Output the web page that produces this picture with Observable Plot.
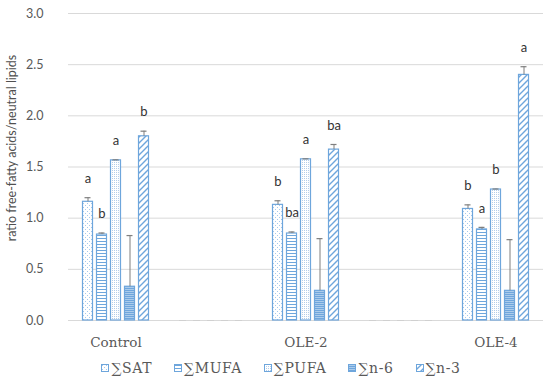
<!DOCTYPE html>
<html><head><meta charset="utf-8">
<script src="https://cdn.jsdelivr.net/npm/d3@7"></script>
<script src="https://cdn.jsdelivr.net/npm/@observablehq/plot@0.6"></script>
<style>
body{margin:0;background:#fff;}
#wrap{position:relative;width:550px;height:381px;background:#fff;}
#ylabel{position:absolute;left:11px;top:148px;transform:translate(-50%,-50%) rotate(-90deg);white-space:nowrap;font:12.5px Lato, sans-serif;color:#505050;}
#legend{position:absolute;left:0;top:358px;width:550px;height:20px;display:flex;justify-content:center;align-items:center;gap:22px;font:14px "DejaVu Serif", serif;letter-spacing:0.6px;color:#595959;padding-left:12px;box-sizing:border-box;}
#legend .item{display:flex;align-items:center;}
#legend svg{margin-right:2px;}
</style></head><body>
<svg width="0" height="0" style="position:absolute"><defs>
<pattern id="pSAT" width="4" height="4" patternUnits="userSpaceOnUse"><rect width="4" height="4" fill="#fff"/><rect x="1" y="1" width="1" height="1" fill="#a6c8ec"/><rect x="3" y="3" width="1" height="1" fill="#a6c8ec"/></pattern>
<pattern id="pMUFA" width="4" height="3" patternUnits="userSpaceOnUse"><rect width="4" height="3" fill="#fff"/><rect x="0" y="1" width="4" height="1" fill="#6ea6dc"/></pattern>
<pattern id="pPUFA" width="2" height="2" patternUnits="userSpaceOnUse"><rect width="2" height="2" fill="#fff"/><rect x="0" y="0" width="1" height="1" fill="#b3cde9"/></pattern>
<pattern id="pN6" width="2" height="2" patternUnits="userSpaceOnUse"><rect width="2" height="2" fill="#abcbeb"/><rect x="0" y="0" width="2" height="1" fill="#6fa6dc"/></pattern>
<pattern id="pN3" width="6" height="6" patternUnits="userSpaceOnUse"><rect width="6" height="6" fill="#fff"/><path d="M0,6 L6,0 M-3,3 L3,-3 M3,9 L9,3" stroke="#6ea6dc" stroke-width="1.4"/></pattern>
</defs></svg>
<div id="wrap"><div id="chart"></div><div id="ylabel">ratio free-fatty acids/neutral lipids</div><div id="legend"></div></div>
<script>
const categories = ["Control", "OLE-2", "OLE-4"];
const groupSlots = ["Control", "gap1", "OLE-2", "gap2", "OLE-4"];
const series = ["∑SAT", "∑MUFA", "∑PUFA", "∑n-6", "∑n-3"];
const patterns = ["url(#pSAT)", "url(#pMUFA)", "url(#pPUFA)", "url(#pN6)", "url(#pN3)"];
const yTicks = [0, 0.5, 1.0, 1.5, 2.0, 2.5, 3.0];

const SAT = [1.16, 1.13, 1.09];
const MUFA = [0.84, 0.85, 0.89];
const PUFA = [1.565, 1.575, 1.28];
const N6 = [0.33, 0.29, 0.29];
const N3 = [1.80, 1.67, 2.40];

const SAT_err = [0.04, 0.04, 0.04];
const MUFA_err = [0.015, 0.015, 0.02];
const PUFA_err = [0.005, 0.005, 0.005];
const N6_err = [0.50, 0.51, 0.50];
const N3_err = [0.05, 0.05, 0.08];

const SAT_sig = ["a", "b", "b"];
const MUFA_sig = ["b", "ba", "a"];
const PUFA_sig = ["a", "a", "b"];
const N6_sig = ["", "", ""];
const N3_sig = ["b", "ba", "a"];

const vals = [SAT, MUFA, PUFA, N6, N3];
const errs = [SAT_err, MUFA_err, PUFA_err, N6_err, N3_err];
const sigs = [SAT_sig, MUFA_sig, PUFA_sig, N6_sig, N3_sig];

const rows = [];
categories.forEach((c, i) => series.forEach((s, j) => rows.push({cat: c, series: s, value: vals[j][i], err: errs[j][i], sig: sigs[j][i]})));
const gaps = [];
["gap1", "gap2"].forEach(c => series.forEach(s => gaps.push({cat: c, series: s, value: 0})));

const chart = Plot.plot({
  width: 550, height: 355,
  marginLeft: 68, marginRight: 7, marginTop: 13, marginBottom: 35,
  style: {background: "white", color: "#595959"},
  fx: {domain: groupSlots, padding: 0, label: null},
  x: {domain: series, paddingInner: 0.2, paddingOuter: 0.875, axis: null},
  y: {domain: [0, 3], label: null},
  color: {type: "ordinal", domain: series, range: patterns},
  marks: [
    Plot.gridY({ticks: yTicks, stroke: "#d9d9d9", strokeOpacity: 1}),
    Plot.axisY({ticks: yTicks, tickFormat: d3.format(".1f"), tickSize: 0, tickPadding: 25, label: null, fontFamily: "Lato", fontSize: 12.5, fill: "#595959"}),
    Plot.axisFx({anchor: "bottom", tickSize: 0, tickPadding: 17, label: null, tickFormat: d => d.startsWith("gap") ? "" : d, fontFamily: "DejaVu Serif", fontSize: 13.5, fill: "#595959"}),
    Plot.tickY(gaps, {fx: "cat", x: "series", y: "value", stroke: "#d0d0d0", insetLeft: 2, insetRight: 2}),
    Plot.barY(rows, {fx: "cat", x: "series", y: "value", fill: "series", stroke: "#6ea6dc", strokeWidth: 1.2, insetLeft: 0.5, insetRight: 0.5}),
    Plot.ruleX(rows, {fx: "cat", x: "series", y1: "value", y2: d => d.value + d.err, stroke: "#7f7f7f", strokeWidth: 1}),
    Plot.tickY(rows, {fx: "cat", x: "series", y: d => d.value + d.err, stroke: "#7f7f7f", strokeWidth: 1.2, insetLeft: 2.5, insetRight: 2.5}),
    Plot.text(rows.filter(d => d.sig), {fx: "cat", x: "series", y: d => d.value + d.err, text: "sig", dy: -19, fontFamily: "Lato", fontSize: 13, fill: "#333333"})
  ]
});
document.getElementById("chart").appendChild(chart);

const legend = document.getElementById("legend");
series.forEach((s, j) => {
  const item = document.createElement("div");
  item.className = "item";
  item.innerHTML = `<svg width="8" height="8"><rect x="0.5" y="0.5" width="7" height="7" fill="${patterns[j]}" stroke="#6ea6dc" stroke-width="1"/></svg><span>${s}</span>`;
  legend.appendChild(item);
});
</script>
</body></html>
